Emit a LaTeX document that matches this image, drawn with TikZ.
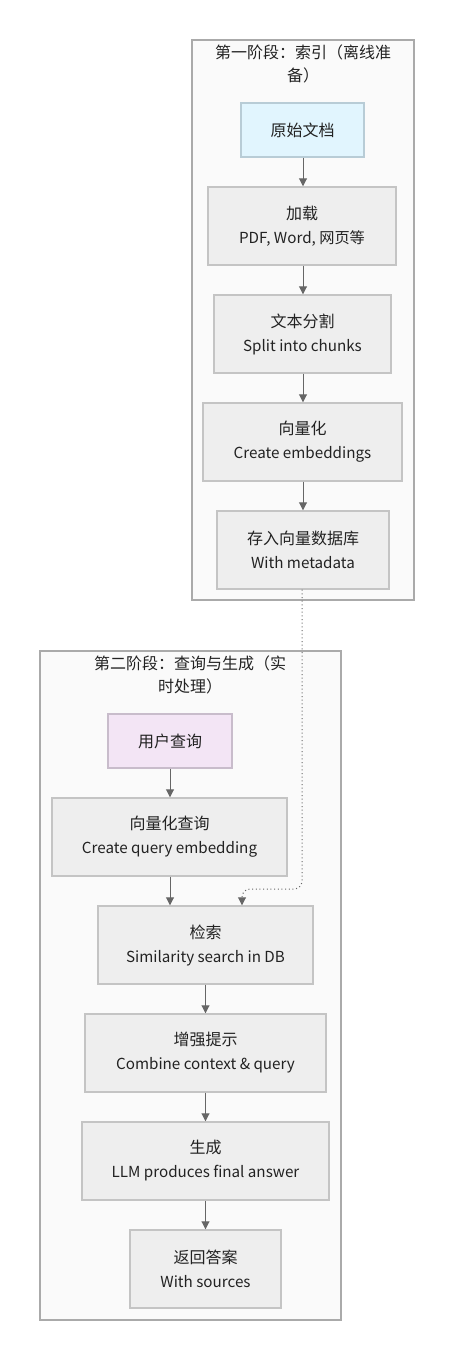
\documentclass[tikz,border=0pt]{standalone}
\usepackage{fontspec}
\setmainfont{Noto Sans CJK SC}
\usetikzlibrary{arrows.meta,positioning}
\definecolor{clfill}{HTML}{FAFAFA}
\definecolor{cldraw}{HTML}{AAAAAA}
\definecolor{boxfill}{HTML}{EEEEEE}
\definecolor{boxdraw}{HTML}{C4C4C4}
\definecolor{bluefill}{HTML}{E1F5FE}
\definecolor{bluedraw}{HTML}{B8CCD6}
\definecolor{purplefill}{HTML}{F3E5F5}
\definecolor{purpledraw}{HTML}{C8BCCB}
\definecolor{arrowc}{HTML}{666666}
\definecolor{txt}{HTML}{222222}
\newcommand{\sub}[1]{{\fontsize{11.4pt}{18pt}\selectfont #1}}
\tikzset{
  cluster/.style={draw=cldraw, fill=clfill, line width=1.1pt, inner sep=0pt},
  stepbox/.style={draw=boxdraw, fill=boxfill, line width=1.1pt, inner sep=0pt, align=center, text=txt, font=\fontsize{12pt}{18pt}\selectfont},
  title/.style={text=txt, align=center, font=\fontsize{12pt}{17.5pt}\selectfont, inner sep=0pt},
  arr/.style={draw=arrowc, line width=0.75pt, -{Triangle[length=6pt,width=6pt]}},
  dotarr/.style={draw=arrowc, line width=0.75pt, dotted, rounded corners=6pt, -{Triangle[length=6pt,width=6pt]}}
}
\begin{document}
\begin{tikzpicture}[x=0.75pt,y=-0.75pt]
\useasboundingbox (0,0) rectangle (454,1360);
% clusters
\node[cluster, minimum width=222*0.75pt, minimum height=560*0.75pt] (c1) at (303,320) {};
\node[cluster, minimum width=301*0.75pt, minimum height=669*0.75pt] (c2) at (190.5,985.5) {};
\node[title] (t1) at (303,64) {第一阶段：索引（离线准\\备）};
\node[title] (t2) at (190,675) {第二阶段：查询与生成（实\\时处理）};
% phase 1
\node[stepbox, fill=bluefill, draw=bluedraw, minimum width=123*0.75pt, minimum height=54*0.75pt] (a0) at (302.5,130) {原始文档};
\node[stepbox, minimum width=188*0.75pt, minimum height=78*0.75pt] (a1) at (302,226) {加载\\\sub{PDF, Word, 网页等}};
\node[stepbox, minimum width=177*0.75pt, minimum height=78*0.75pt] (a2) at (302.5,334) {文本分割\\\sub{Split into chunks}};
\node[stepbox, minimum width=199*0.75pt, minimum height=78*0.75pt] (a3) at (302.5,442) {向量化\\\sub{Create embeddings}};
\node[stepbox, minimum width=172*0.75pt, minimum height=78*0.75pt] (a4) at (303,550) {存入向量数据库\\\sub{With metadata}};
% phase 2
\node[stepbox, fill=purplefill, draw=purpledraw, minimum width=124*0.75pt, minimum height=54*0.75pt] (b0) at (170,741) {用户查询};
\node[stepbox, minimum width=235*0.75pt, minimum height=78*0.75pt] (b1) at (169.5,837) {向量化查询\\\sub{Create query embedding}};
\node[stepbox, minimum width=215*0.75pt, minimum height=78*0.75pt] (b2) at (205.5,945) {检索\\\sub{Similarity search in DB}};
\node[stepbox, minimum width=241*0.75pt, minimum height=78*0.75pt] (b3) at (205.5,1053) {增强提示\\\sub{Combine context \& query}};
\node[stepbox, minimum width=247*0.75pt, minimum height=78*0.75pt] (b4) at (205.5,1161) {生成\\\sub{LLM produces final answer}};
\node[stepbox, minimum width=151*0.75pt, minimum height=78*0.75pt] (b5) at (205.5,1269) {返回答案\\\sub{With sources}};
% arrows
\draw[arr] (a0.south -| 303,0) -- (a1.north -| 303,0);
\draw[arr] (a1.south -| 303,0) -- (a2.north -| 303,0);
\draw[arr] (a2.south -| 303,0) -- (a3.north -| 303,0);
\draw[arr] (a3.south -| 303,0) -- (a4.north -| 303,0);
\draw[arr] (b0.south -| 170,0) -- (b1.north -| 170,0);
\draw[arr] (b1.south -| 170,0) -- (b2.north -| 170,0);
\draw[arr] (b2) -- (b3);
\draw[arr] (b3) -- (b4);
\draw[arr] (b4) -- (b5);
\coordinate (k1) at (302,889);
\coordinate (k2) at (242,889);
\draw[dotarr] (a4.south -| 302,0) -- (k1) -- (k2) -- (b2.north -| 242,0);
\end{tikzpicture}
\end{document}
